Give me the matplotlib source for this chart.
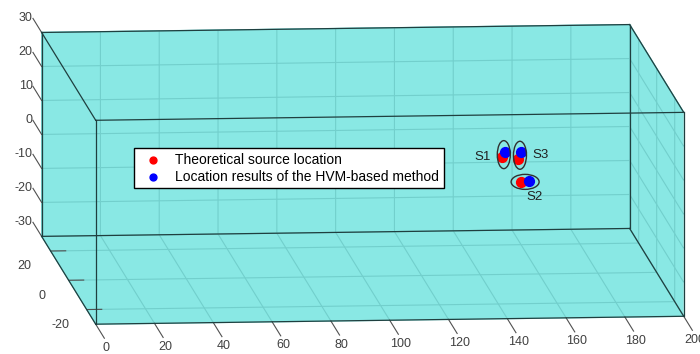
import itertools
import numpy as np
import matplotlib.pyplot as plt
from matplotlib.patches import Ellipse
from matplotlib.transforms import IdentityTransform
from mpl_toolkits.mplot3d import proj3d

plt.rcParams['font.family'] = ['Liberation Sans', 'DejaVu Sans']
plt.rcParams['axes.unicode_minus'] = False

# source positions (x, y, z)
names = ['S1', 'S2', 'S3']
theo_x = [147.5, 154.0, 153.0]
theo_y = [0.0, 0.0, 0.0]
theo_z = [4.5, -3.0, 4.0]
hvm_x = [148.5, 156.5, 154.0]
hvm_y = [0.0, 0.0, 0.0]
hvm_z = [6.0, -2.7, 6.0]

# model block / axis limits and ticks
xlim = (0, 200)
ylim = (-30, 30)
zlim = (-30, 30)
xticks = [0, 20, 40, 60, 80, 100, 120, 140, 160, 180, 200]
yticks = [-20, 0, 20]
zticks = [-30, -20, -10, 0, 10, 20, 30]

cyan = '#89e8e4'
label_color = '#404040'

fig = plt.figure(figsize=(7, 3.54), dpi=100)
# oversized square axes so the block fills the figure
ax = fig.add_axes([-0.0974, -0.7096, 1.1986, 2.370], projection='3d', proj_type='ortho')
ax.view_init(elev=8.5, azim=-95.2)
ax.set_box_aspect((590, 596, 206))
ax.set_xlim(*xlim)
ax.set_ylim(*ylim)
ax.set_zlim(*zlim)
ax.set_xticks(xticks)
ax.set_yticks(yticks)
ax.set_zticks(zticks)

# z ticks point backwards (along y) instead of along x
ax.zaxis._get_tickdir = lambda position: 1

for axis in (ax.xaxis, ax.yaxis, ax.zaxis):
    axis.set_pane_color(cyan)
    axis.pane.set_edgecolor(cyan)
    axis._axinfo['grid'].update(color='#72cfcc', linewidth=0.8)
    axis._axinfo['tick'].update(inward_factor=0.0, linewidth={True: 0.8, False: 0.5})
    axis.line.set_color((0, 0, 0, 0))
ax.xaxis._axinfo['tick']['outward_factor'] = -2.0
ax.yaxis._axinfo['tick']['outward_factor'] = 0.32
ax.zaxis._axinfo['tick']['outward_factor'] = 2.0
ax.tick_params(labelsize=9, labelcolor=label_color, color='#505050')
ax.tick_params(axis='y', pad=6)
# x and z labels are written out below, at the ends of the ticks
ax.set_xticklabels([''] * len(xticks))
ax.set_zticklabels([''] * len(zticks))
for xt in xticks:
    ax.text(xt, ylim[0] - 12, zlim[0], str(xt), ha='center', va='top',
            fontsize=9, color=label_color)
for zt in zticks:
    ax.text(xlim[0], ylim[1] + 10, zt, str(zt), ha='right', va='center',
            fontsize=9, color=label_color)

# block outline
corners = list(itertools.product(xlim, ylim, zlim))
for a, b in itertools.combinations(corners, 2):
    if sum(p != q for p, q in zip(a, b)) == 1:
        ax.plot(*zip(a, b), color='#1f3f3f', lw=0.9, clip_on=False)

ax.scatter(theo_x, theo_y, theo_z, c='red', s=50, depthshade=False,
           label='Theoretical source location')
ax.scatter(hvm_x, hvm_y, hvm_z, c='blue', s=50, depthshade=False,
           label='Location results of the HVM-based method')

ax.legend(loc='upper left', bbox_to_anchor=(134 / 700, 1 - 148 / 354),
          bbox_transform=fig.transFigure, fancybox=False, framealpha=1,
          edgecolor='black', fontsize=10, borderaxespad=0, borderpad=0.35,
          markerscale=0.7, handletextpad=0.6, labelspacing=0.2)

# circle each pair of points and tag it
fig.canvas.draw()
M = ax.get_proj()
ell_w = [13, 28, 13]
ell_h = [28, 15, 28]
lab_dx = [-21, 9, 21]
lab_dy = [-2, -15, 0]
for i, name in enumerate(names):
    mx = (theo_x[i] + hvm_x[i]) / 2
    my = (theo_y[i] + hvm_y[i]) / 2
    mz = (theo_z[i] + hvm_z[i]) / 2
    px, py, _ = proj3d.proj_transform(mx, my, mz, M)
    cx, cy = ax.transData.transform((px, py))
    fig.add_artist(Ellipse((cx, cy), ell_w[i], ell_h[i], transform=IdentityTransform(),
                           fill=False, ec='#303030', lw=1.0))
    fig.text(cx + lab_dx[i], cy + lab_dy[i], name, transform=IdentityTransform(),
             ha='center', va='center', fontsize=9.5, color='#202020')

fig.savefig('out.png', dpi=100)
